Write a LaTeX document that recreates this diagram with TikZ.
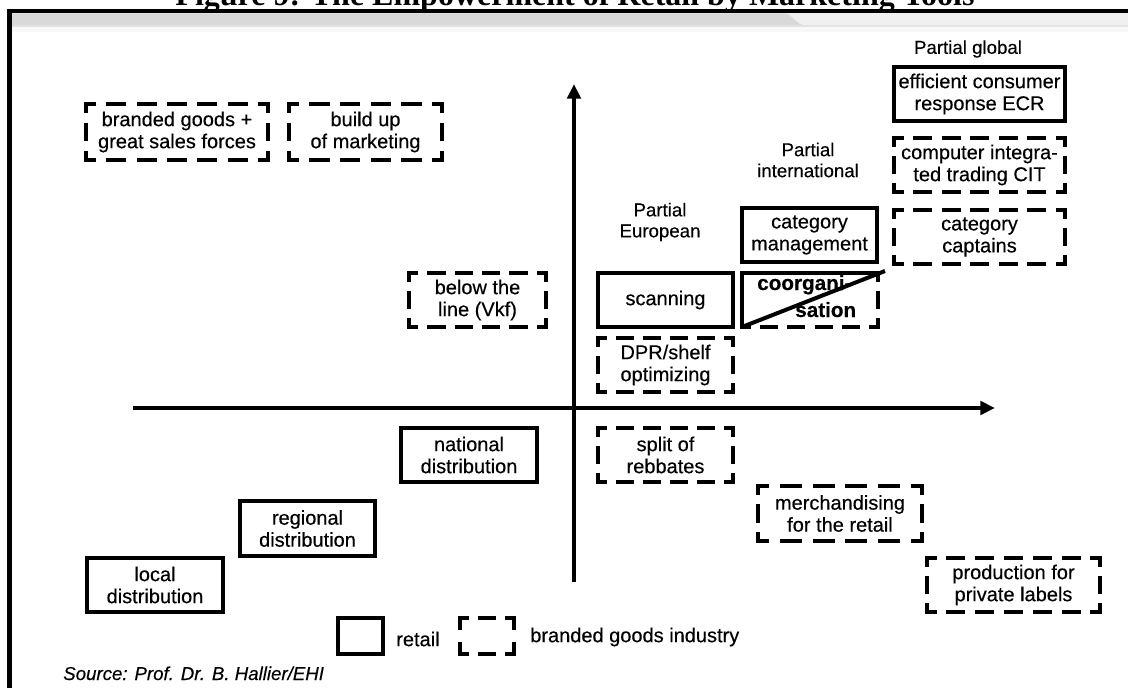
\documentclass[tikz,border=0pt]{standalone}
\usepackage{fontspec}
\setmainfont{Liberation Sans}[FakeBold=0.35]
\newfontfamily\titlefam{Liberation Serif}
\usetikzlibrary{arrows.meta}
\definecolor{banddark}{HTML}{D9D9D9}
\definecolor{bandlight}{HTML}{F0F0F0}
\definecolor{bandline}{HTML}{E4E4E4}
\definecolor{bandfade}{HTML}{F8F8F8}
\newcommand\dslw{2.4}
\tikzset{
  boxtext/.style={font=\fontsize{15}{16.5}\selectfont, align=center, inner sep=0pt, outer sep=0pt},
  solidbox/.style={boxtext, draw, line width=2.4pt},
  dashbox/.style={boxtext},
  dashline/.style={line width=2.4pt, line cap=rect},
  solidline/.style={line width=2.4pt, line cap=rect},
  diagline/.style={line width=3pt},
  axis/.style={line width=3pt, -{Triangle[length=11pt,width=10pt]}},
  lbl/.style={font=\fontsize{14}{15.75}\selectfont, align=center, inner sep=0pt},
  coorgtext/.style={font=\bfseries\fontsize{15.5}{18}\selectfont, inner sep=0pt, anchor=base west},
  legtext/.style={font=\fontsize{15}{18}\selectfont, inner sep=0pt, anchor=west},
  srctext/.style={font=\itshape\fontsize{14}{16}\selectfont, inner sep=0pt, anchor=base west},
  titletext/.style={font=\titlefam\bfseries\fontsize{24}{28}\selectfont, inner sep=0pt, anchor=base},
}
\newcommand\dseg[2]{%
  \path (#1) coordinate (dsA) (#2) coordinate (dsB);%
  \pgfpointdiff{\pgfpointanchor{dsA}{center}}{\pgfpointanchor{dsB}{center}}%
  \pgfgetlastxy{\dsx}{\dsy}%
  \pgfmathsetmacro\dslen{veclen(\dsx,\dsy)}%
  \pgfmathsetmacro\dsk{max(1,round(\dslen/22.5))}%
  \pgfmathsetmacro\dsp{\dslen/\dsk}%
  \pgfmathsetmacro\dson{max(0.5,2*\dsp/3-\dslw)}%
  \pgfmathsetmacro\dsoff{\dsp/3+\dslw}%
  \pgfmathsetmacro\dsph{\dson/2}%
  \draw[dashline, dash pattern=on \dson pt off \dsoff pt, dash phase=\dsph pt] (dsA) -- (dsB);%
}
\newcommand\dframe[1]{%
  \dseg{#1.north west}{#1.north east}%
  \dseg{#1.north east}{#1.south east}%
  \dseg{#1.south east}{#1.south west}%
  \dseg{#1.south west}{#1.north west}%
}
\begin{document}
\begin{tikzpicture}[x=0.75pt, y=-0.75pt]
\useasboundingbox (0,0) rectangle (1128,688);
\clip (0,0) rectangle (1128,688);
% title (cut off at the top)
\node[titletext] (title) at (575,6) {Figure 9: The Empowerment of Retail by Marketing Tools};
% frame and band
\fill[bandfade] (12,25.5) rectangle (1128,32);
\fill[bandline] (12,25) rectangle (1128,27);
\fill[bandlight] (12,13.3) rectangle (1128,25.5);
\fill[banddark] (12,13.3) -- (784,13.3) .. controls (792,13.3) and (796,25.5) .. (806,25.5) -- (12,25.5) -- cycle;
\fill[black] (7,9) rectangle (1128,13.5);
\fill[black] (7,9) rectangle (12,688);
% axes
\coordinate (xs) at (133,408);
\coordinate (xe) at (995,408);
\coordinate (ys) at (574,582);
\coordinate (ye) at (574,84);
\draw[axis] (xs) -- (xe);
\draw[axis] (ys) -- (ye);
% labels
\node[lbl] (pglobal) at (968,49) {Partial global};
\node[lbl] (pinter) at (808,160) {Partial\\international};
\node[lbl] (peuro) at (660,222) {Partial\\European};
% boxes
\node[solidbox, minimum width=128.25pt, minimum height=40.5pt] (ecr) at (979.5,94) {efficient consumer\\response ECR};
\node[dashbox, minimum width=128.25pt, minimum height=40.5pt] (cit) at (979.5,165) {computer integra-\\ted trading CIT};
\node[dashbox, minimum width=128.25pt, minimum height=40.5pt] (capt) at (979.5,237) {category\\captains};
\node[solidbox, minimum width=101.25pt, minimum height=40.5pt] (catm) at (809.5,235) {category\\management};
\node[dashbox, minimum width=102pt, minimum height=40.5pt] (coorg) at (810,300) {};
\node[solidbox, minimum width=101.25pt, minimum height=40.5pt] (scan) at (665.5,300) {scanning};
\node[dashbox, minimum width=102.75pt, minimum height=40.5pt] (below) at (477.5,300) {below the\\line (Vkf)};
\node[dashbox, minimum width=101.25pt, minimum height=40.5pt] (dpr) at (665.5,365) {DPR/shelf\\optimizing};
\node[dashbox, minimum width=136.5pt, minimum height=42pt] (brand) at (177,132) {branded goods +\\great sales forces};
\node[dashbox, minimum width=114.75pt, minimum height=42pt] (build) at (365.5,132) {build up\\of marketing};
\node[dashbox, minimum width=101.25pt, minimum height=40.5pt] (split) at (665.5,455) {split of\\rebbates};
\node[solidbox, minimum width=102pt, minimum height=40.5pt] (natl) at (469,455) {national\\distribution};
\node[dashbox, minimum width=123pt, minimum height=41.25pt] (merch) at (840,513.5) {merchandising\\for the retail};
\node[solidbox, minimum width=101.25pt, minimum height=41.25pt] (regl) at (307.5,528.5) {regional\\distribution};
\node[dashbox, minimum width=129.75pt, minimum height=40.5pt] (prod) at (1013.5,585) {production for\\private labels};
\node[solidbox, minimum width=102pt, minimum height=40.5pt] (locl) at (155,585) {local\\distribution};
% dashed frames
\dframe{cit}
\dframe{capt}
\dframe{below}
\dframe{dpr}
\dframe{brand}
\dframe{build}
\dframe{split}
\dframe{merch}
\dframe{prod}
% co-organisation box: half retail, half branded goods industry
\draw[solidline] (coorg.south west) -- (coorg.north west) -- (coorg.north east);
\dseg{coorg.north east}{coorg.south east}
\dseg{coorg.south east}{coorg.south west}
\coordinate (coorgD) at (885,271);
\node[coorgtext] (coorgA) at (757,290) {coorgani-};
\node[coorgtext] (coorgB) at (795,317) {sation};
\draw[diagline] (coorg.south west) -- (coorgD);
% legend
\node[solidbox, minimum width=33.75pt, minimum height=27pt] (legR) at (360.5,636) {};
\node[legtext] (legRt) at (396,639) {retail};
\node[dashbox, minimum width=40.5pt, minimum height=27pt] (legB) at (487,636) {};
\dframe{legB}
\node[legtext] (legBt) at (530,637) {branded goods industry};
% source
\node[srctext] (src) at (63,680) {Source: Prof. Dr. B. Hallier/EHI};
\end{tikzpicture}
\end{document}
